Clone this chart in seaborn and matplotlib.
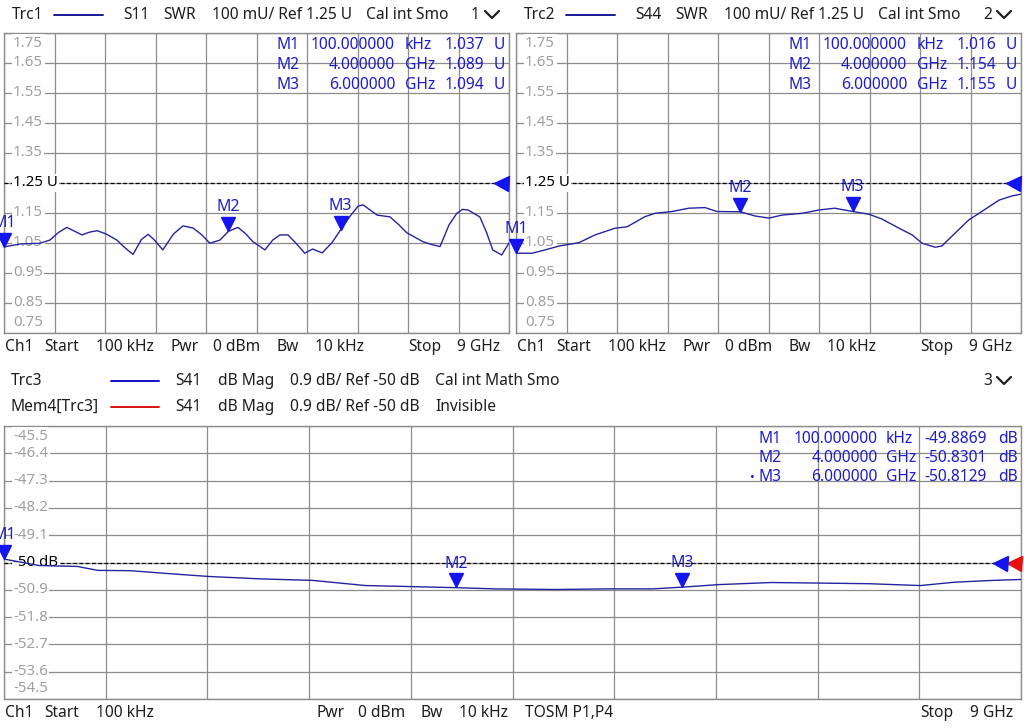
import numpy as np
import pandas as pd
import matplotlib.pyplot as plt
import seaborn as sns
from matplotlib.lines import Line2D
from matplotlib.transforms import offset_copy

# ---- trace data (frequency in GHz) ----
s11_freq = [0.0001, 0.29, 0.64, 0.82, 0.97, 1.12, 1.25, 1.39, 1.52, 1.66, 1.82, 2.01, 2.15,
            2.30, 2.45, 2.57, 2.68, 2.83, 3.02, 3.19, 3.37, 3.52, 3.67, 3.85, 4.0, 4.17, 4.30,
            4.44, 4.65, 4.79, 4.92, 5.06, 5.21, 5.36, 5.50, 5.67, 5.84, 6.0, 6.17, 6.31, 6.40,
            6.65, 6.88, 7.03, 7.18, 7.47, 7.62, 7.77, 7.93, 8.07, 8.17, 8.27, 8.48, 8.60, 8.71,
            8.87, 9.0]
s11_swr = [1.037, 1.047, 1.049, 1.060, 1.085, 1.102, 1.090, 1.077, 1.086, 1.091, 1.080, 1.060,
           1.035, 1.012, 1.062, 1.079, 1.060, 1.027, 1.080, 1.107, 1.100, 1.078, 1.049, 1.060,
           1.089, 1.102, 1.082, 1.054, 1.027, 1.060, 1.077, 1.077, 1.048, 1.016, 1.030, 1.017,
           1.050, 1.094, 1.140, 1.173, 1.177, 1.143, 1.137, 1.112, 1.084, 1.054, 1.045, 1.038,
           1.110, 1.149, 1.162, 1.160, 1.137, 1.085, 1.027, 1.010, 1.050]

s44_freq = [0.0001, 0.29, 0.52, 0.77, 1.12, 1.41, 1.76, 1.98, 2.30, 2.48, 2.78, 3.08, 3.37,
            3.58, 4.0, 4.26, 4.51, 4.74, 5.10, 5.40, 5.68, 6.0, 6.29, 6.52, 6.83, 7.06, 7.24,
            7.47, 7.59, 7.82, 8.07, 8.30, 8.61, 8.84, 9.0]
s44_swr = [1.016, 1.016, 1.027, 1.040, 1.051, 1.077, 1.099, 1.104, 1.138, 1.149, 1.155, 1.166,
           1.168, 1.155, 1.154, 1.140, 1.133, 1.143, 1.149, 1.160, 1.166, 1.155, 1.146, 1.130,
           1.099, 1.077, 1.049, 1.036, 1.040, 1.082, 1.127, 1.155, 1.193, 1.207, 1.213]

s41_freq = [0.0001, 0.31, 0.65, 0.83, 1.12, 1.47, 1.81, 2.27, 2.73, 3.20, 3.55, 4.0, 4.35,
            4.88, 5.34, 5.74, 6.0, 6.32, 6.79, 7.25, 7.66, 8.11, 8.41, 8.75, 9.0]
s41_db = [-49.887, -50.10, -50.13, -50.26, -50.27, -50.37, -50.46, -50.54, -50.59, -50.76,
          -50.79, -50.830, -50.87, -50.89, -50.87, -50.87, -50.813, -50.73, -50.66, -50.68,
          -50.70, -50.76, -50.65, -50.59, -50.56]

# markers
mk_names = ['M1', 'M2', 'M3']
mk_freq = [0.0001, 4.0, 6.0]
mk_freq_txt = ['100.000000', '4.000000', '6.000000']
mk_unit = ['kHz', 'GHz', 'GHz']
s11_mk = ['1.037', '1.089', '1.094']
s44_mk = ['1.016', '1.154', '1.155']
s41_mk = ['-49.8869', '-50.8301', '-50.8129']

# y scale labels
swr_labels = ['1.75', '1.65', '1.55', '1.45', '1.35', '1.25 U', '1.15', '1.05', '0.95', '0.85', '0.75']
db_labels = ['-45.5', '-46.4', '-47.3', '-48.2', '-49.1', '-50 dB', '-50.9', '-51.8', '-52.7', '-53.6', '-54.5']

TRACE = '#2424a0'
MK = '#1414ee'
MKTXT = '#1c1cd0'
GRID = '#8c8c8c'
TXT = '#1e1e1e'
FS = 11.2

sns.set_theme(style='white')
plt.rcParams['font.family'] = ['Noto Sans', 'DejaVu Sans']

fig = plt.figure(figsize=(10.24, 7.28), dpi=100)
W, H = 1024, 728


def ax_at(x0, y0, x1, y1):
    return fig.add_axes([x0 / W, 1 - y1 / H, (x1 - x0) / W, (y1 - y0) / H])


def ftxt(x, y, s, **kw):
    kw.setdefault('color', TXT)
    kw.setdefault('fontsize', FS)
    fig.text(x / W, 1 - y / H, s, va='center', **kw)


def chevron(x, y):
    fig.add_artist(Line2D([x / W, (x + 7) / W, (x + 14) / W],
                          [1 - (y - 3) / H, 1 - (y + 4) / H, 1 - (y - 3) / H],
                          color=TXT, lw=1.6))


def panel(ax, freq, vals, lo, hi, ref, labels, mk_vals, ref_cols, ref_ms_off):
    ax.set_xlim(0.0001, 9)
    ax.set_ylim(lo, hi)
    ax.set_xticks(np.linspace(0.0001, 9, 11))
    yt = np.linspace(lo, hi, 11)
    ax.set_yticks(yt)
    ax.tick_params(length=0, labelleft=False, labelbottom=False)
    ax.set_axisbelow(True)
    ax.grid(True, color=GRID, lw=0.9)
    for s in ax.spines.values():
        s.set_color(GRID)
        s.set_linewidth(1)

    ax.axhline(ref, color='black', ls=(0, (3, 2)), lw=0.9, zorder=3)
    for i, (y, t) in enumerate(zip(yt[::-1], labels)):
        va, dy = 'center', 0
        if i == 0:
            va, dy = 'top', -2
        elif i == 10:
            va, dy = 'bottom', 2
        col = 'black' if i == 5 else '#a0a0a0'
        ax.annotate(t, (0, y), xycoords=('axes fraction', 'data'), xytext=(6.5, dy),
                    textcoords='offset points', ha='left', va=va, color=col, fontsize=10.8,
                    bbox=dict(boxstyle='square,pad=0.1', fc='white', ec='none'), zorder=3.5)

    df = pd.DataFrame({'f': freq, 'v': vals})
    sns.lineplot(data=df, x='f', y='v', ax=ax, color=TRACE, lw=1, estimator=None, zorder=4)
    ax.set_xlabel('')
    ax.set_ylabel('')

    # reference triangles at right edge
    for col, off in zip(ref_cols, ref_ms_off):
        ax.plot([9], [ref], marker='<', ms=10.8, color=col, mec=col, clip_on=False, zorder=5,
                transform=offset_copy(ax.transData, fig=fig, x=off, units='points'))

    # marker triangles and labels
    for name, f, v in zip(mk_names, mk_freq, mk_vals):
        v = float(v)
        ax.plot([f], [v], marker='v', ms=10.5, color=MK, mec=MK, clip_on=False, zorder=6,
                transform=offset_copy(ax.transData, fig=fig, y=5.25, units='points'))
        ax.annotate(name, (f, v), xytext=(0, 14.5), textcoords='offset points', ha='center',
                    va='baseline', color=MKTXT, fontsize=11.5, annotation_clip=False, zorder=7)


def readout(x_m, x_f, x_u, x_v, x_vu, ys, vals, unit, dot=None):
    for i, y in enumerate(ys):
        ftxt(x_m, y, mk_names[i], ha='right', color=MKTXT)
        ftxt(x_f, y, mk_freq_txt[i], ha='right', color=MKTXT)
        ftxt(x_u, y, mk_unit[i], ha='left', color=MKTXT)
        ftxt(x_v, y, vals[i], ha='right', color=MKTXT)
        ftxt(x_vu, y, unit, ha='left', color=MKTXT)
    if dot is not None:
        ftxt(dot, ys[2], '•', ha='center', color=MKTXT, fontsize=9)


ax1 = ax_at(4, 33, 509, 333)
ax2 = ax_at(516, 33, 1021, 333)
ax3 = ax_at(4, 426, 1021, 699)

panel(ax1, s11_freq, s11_swr, 0.75, 1.75, 1.25, swr_labels, s11_mk, [MK], [-6])
panel(ax2, s44_freq, s44_swr, 0.75, 1.75, 1.25, swr_labels, s44_mk, [MK], [-6])
panel(ax3, s41_freq, s41_db, -54.5, -45.5, -50, db_labels, s41_mk, ['#e81010', MK], [-4.7, -14.8])

# ---- header lines of the two SWR windows ----
for dx, trc, par, num in [(0, 'Trc1', 'S11', '1'), (512, 'Trc2', 'S44', '2')]:
    ftxt(12 + dx, 15, trc)
    fig.add_artist(Line2D([(54 + dx) / W, (103 + dx) / W], [1 - 15 / H] * 2, color='#1a1a9a', lw=1.4))
    ftxt(123 + dx, 15, par)
    ftxt(163 + dx, 15, 'SWR')
    ftxt(212 + dx, 15, '100 mU/ Ref 1.25 U')
    ftxt(366 + dx, 15, 'Cal int Smo')
    ftxt(471 + dx, 15, num)
    chevron(485 + dx, 14)
    # channel info row
    ftxt(5 + dx, 347, 'Ch1')
    ftxt(44 + dx, 347, 'Start')
    ftxt(96 + dx, 347, '100 kHz')
    ftxt(170 + dx, 347, 'Pwr')
    ftxt(213 + dx, 347, '0 dBm')
    ftxt(276 + dx, 347, 'Bw')
    ftxt(315 + dx, 347, '10 kHz')
    ftxt(408 + dx, 347, 'Stop')
    ftxt(457 + dx, 347, '9 GHz')

readout(300, 395, 405, 484, 494, [45, 65, 85], s11_mk, 'U')
readout(812, 907, 917, 996, 1006, [45, 65, 85], s44_mk, 'U')

# ---- header of the transmission window ----
for y, name, col, extra in [(381, 'Trc3', '#1010d0', 'Cal int Math Smo'),
                            (407, 'Mem4[Trc3]', '#e01010', 'Invisible')]:
    ftxt(11, y, name)
    fig.add_artist(Line2D([111 / W, 159 / W], [1 - y / H] * 2, color=col, lw=1.4))
    ftxt(175, y, 'S41')
    ftxt(218, y, 'dB Mag')
    ftxt(290, y, '0.9 dB/ Ref -50 dB')
    ftxt(435, y, extra)
ftxt(983, 381, '3')
chevron(997, 380)

readout(782, 878, 886, 987, 998, [439, 458, 477], s41_mk, 'dB', dot=752)

ftxt(5, 713, 'Ch1')
ftxt(44, 713, 'Start')
ftxt(96, 713, '100 kHz')
ftxt(316, 713, 'Pwr')
ftxt(358, 713, '0 dBm')
ftxt(420, 713, 'Bw')
ftxt(459, 713, '10 kHz')
ftxt(525, 713, 'TOSM P1,P4')
ftxt(920, 713, 'Stop')
ftxt(970, 713, '9 GHz')

fig.savefig('out.png', dpi=100, facecolor='white')
